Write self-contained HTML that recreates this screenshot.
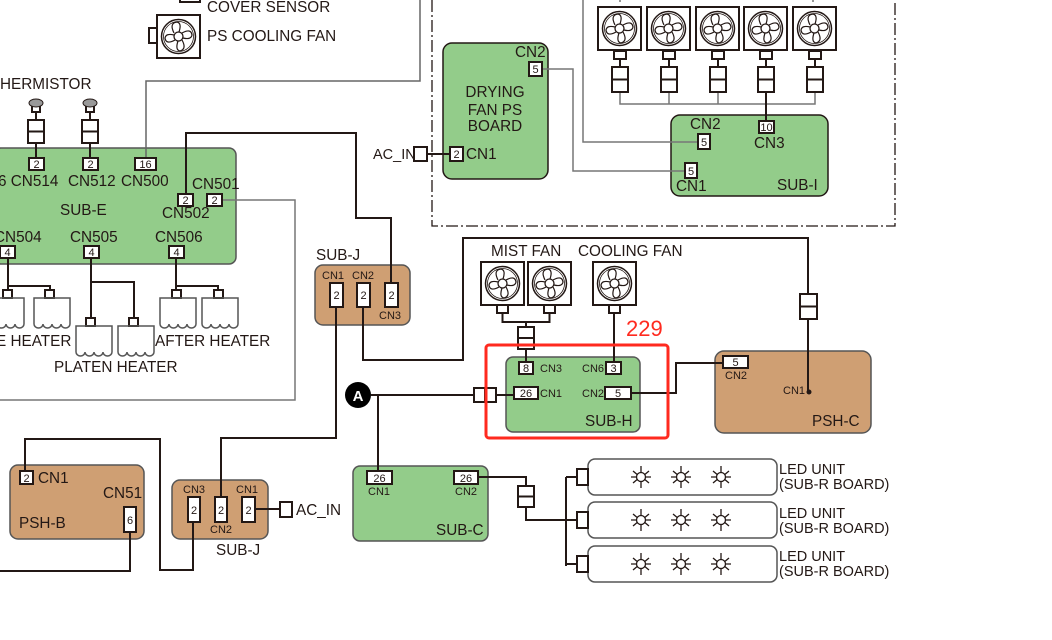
<!DOCTYPE html>
<html><head><meta charset="utf-8"><style>
html,body{margin:0;padding:0;background:#fff;}
svg{display:block;}
text{font-family:"Liberation Sans",sans-serif;fill:#231815;}
.l{font-size:15.3px;}
.s{font-size:11px;}
.n{font-size:11px;}
</style></head><body>
<svg width="1052" height="640" viewBox="0 0 1052 640" xmlns="http://www.w3.org/2000/svg">
<defs>
<g id="fan">
<rect x="0" y="0" width="43" height="43" fill="#fff" stroke="#231815" stroke-width="2"/>
<circle cx="21.5" cy="21.5" r="17" fill="none" stroke="#231815" stroke-width="1.5"/>
<circle cx="21.5" cy="21.5" r="15" fill="none" stroke="#231815" stroke-width="0.8"/>
<circle cx="21.5" cy="21.5" r="4.5" fill="none" stroke="#231815" stroke-width="1.3"/>
<path d="M17 18 Q12 8 20 7 Q25 8 22 17 M25 18 Q34 13 35 20 Q34 25 26 23 M25 25 Q30 34 23 36 Q18 35 21 26 M18 25 Q9 30 8 23 Q9 18 17 20" fill="none" stroke="#231815" stroke-width="1.2"/>
</g>
<g id="coil">
<path d="M0 26 V0 H36 V26 M0 26 a4.5 4 0 0 0 9 0 a4.5 4 0 0 0 9 0 a4.5 4 0 0 0 9 0 a4.5 4 0 0 0 9 0" fill="none" stroke="#555" stroke-width="1.5"/>
</g>
<g id="star">
<circle cx="0" cy="0" r="4.5" fill="none" stroke="#231815" stroke-width="1.3"/>
<path d="M0 -11 V-4.5 M0 4.5 V11 M-10 0 H-4.5 M4.5 0 H10 M-8 -6 L-3.8 -2.5 M8 -6 L3.8 -2.5 M-8 6 L-3.8 2.5 M8 6 L3.8 2.5" stroke="#231815" stroke-width="1.3"/>
</g>
<g id="fconn">
<rect x="-6" y="0" width="12" height="8" fill="#fff" stroke="#231815" stroke-width="2"/>
<line x1="0" y1="8" x2="0" y2="16" stroke="#231815" stroke-width="2"/>
<rect x="-8" y="16" width="16" height="25" fill="#fff" stroke="#231815" stroke-width="2"/>
<line x1="-8" y1="28.5" x2="8" y2="28.5" stroke="#231815" stroke-width="2"/>
</g>
</defs>

<path d="M432 0 V226 H895 V0" fill="none" stroke="#231815" stroke-width="1.3" stroke-dasharray="12,3,2,3"/>

<rect x="-6" y="148" width="242" height="116" rx="7" fill="#93cc8a" stroke="#555" stroke-width="1.5"/>
<rect x="443" y="43" width="105" height="136" rx="9" fill="#93cc8a" stroke="#231815" stroke-width="1.5"/>
<rect x="671" y="115" width="157" height="81" rx="9" fill="#93cc8a" stroke="#231815" stroke-width="1.5"/>
<rect x="315" y="265" width="95" height="60" rx="8" fill="#cf9f73" stroke="#555" stroke-width="1.5"/>
<rect x="506" y="357" width="134" height="75" rx="7" fill="#93cc8a" stroke="#555" stroke-width="1.5"/>
<rect x="715" y="351" width="156" height="82" rx="9" fill="#cf9f73" stroke="#555" stroke-width="1.5"/>
<rect x="353" y="466" width="135" height="75" rx="7" fill="#93cc8a" stroke="#555" stroke-width="1.5"/>
<rect x="10" y="465" width="134" height="74" rx="8" fill="#cf9f73" stroke="#555" stroke-width="1.5"/>
<rect x="172" y="480" width="96" height="59" rx="8" fill="#cf9f73" stroke="#555" stroke-width="1.5"/>

<g fill="none" stroke="#231815" stroke-width="2">
<path d="M420 0 V81 H146 V158" stroke="#666" stroke-width="1.5"/>
<path d="M186 195 V133 H356 V218 H391 V285"/>
<path d="M222 200 H295 V400 H0" stroke="#777" stroke-width="1.5"/>
<path d="M8 258 V292 M8 286 H50 V292"/>
<path d="M91 258 V320 M91 282 H134 V320"/>
<path d="M176 258 V292 M176 286 H218 V292"/>
<path d="M336 307 V438 H221 V497"/>
<path d="M363 307 V360 H463 V238 H808 V392"/>
<path d="M427 154 H450"/>
<path d="M542 69 H573 V171 H685" stroke="#777" stroke-width="1.5"/>
<path d="M583 0 V142 H698" stroke="#777" stroke-width="1.5"/>
<path d="M620 91 V104 H815 V91 M669 91 V104 M718 91 V104" stroke="#777" stroke-width="1.5"/>
<path d="M620 0 V2 M813 0 V2" stroke="#777" stroke-width="1.5"/>
<path d="M766 91 V121"/>
<path d="M502.5 313 V322 H549.5 V313 M526 322 V362"/>
<path d="M614 313 V362"/>
<path d="M371 395 H514 M378 395 V471"/>
<path d="M631 393 H676 V363 H723"/>
<path d="M478 477 H526 V520 H566 M566 477 V566 M566 477 H577 M566 520 H577 M566 564 H577"/>
<path d="M25 471 V439 H160 V570 H193 V522"/>
<path d="M130 532 V571 H0"/>
<path d="M255 509 H280"/>
<path d="M36 110 V157 M90 110 V157"/>
</g>

<g stroke="#231815" stroke-width="2" fill="#fff">
<rect x="28" y="120" width="16" height="23"/><line x1="28" y1="131.5" x2="44" y2="131.5"/>
<rect x="82" y="120" width="16" height="23"/><line x1="82" y1="131.5" x2="98" y2="131.5"/>
<rect x="32" y="106" width="8" height="6"/><rect x="86" y="106" width="8" height="6"/>
</g>
<ellipse cx="36" cy="103" rx="7" ry="4" fill="#999" stroke="#231815"/>
<ellipse cx="90" cy="103" rx="7" ry="4" fill="#999" stroke="#231815"/>

<g fill="#fff" stroke="#231815" stroke-width="2">
<rect x="3" y="290" width="9" height="8"/><rect x="45" y="290" width="9" height="8"/>
<rect x="86" y="318" width="9" height="8"/><rect x="129" y="318" width="9" height="8"/>
<rect x="172" y="290" width="9" height="8"/><rect x="214" y="290" width="9" height="8"/>
</g>
<use href="#coil" x="-12" y="298"/><use href="#coil" x="34" y="298"/>
<use href="#coil" x="76" y="326"/><use href="#coil" x="118" y="326"/>
<use href="#coil" x="160" y="298"/><use href="#coil" x="202" y="298"/>

<rect x="149" y="28" width="9" height="15" fill="#fff" stroke="#231815" stroke-width="2"/>
<use href="#fan" x="157" y="15"/>
<rect x="180" y="-4" width="20" height="6" fill="#fff" stroke="#231815" stroke-width="2"/>
<use href="#fan" x="598" y="7"/><use href="#fan" x="647" y="7"/><use href="#fan" x="696" y="7"/><use href="#fan" x="744" y="7"/><use href="#fan" x="793" y="7"/>
<use href="#fconn" x="620" y="51"/><use href="#fconn" x="669" y="51"/><use href="#fconn" x="718" y="51"/><use href="#fconn" x="766" y="51"/><use href="#fconn" x="815" y="51"/>
<use href="#fan" x="481" y="262"/><use href="#fan" x="528" y="262"/><use href="#fan" x="593" y="262"/>
<g fill="#fff" stroke="#231815" stroke-width="2">
<rect x="497" y="305" width="11" height="8"/><rect x="544" y="305" width="11" height="8"/><rect x="609" y="305" width="11" height="8"/>
<rect x="518" y="327" width="16" height="22"/><line x1="518" y1="338" x2="534" y2="338"/>
<rect x="800" y="294" width="17" height="25"/><line x1="800" y1="306.5" x2="817" y2="306.5"/>
<rect x="474" y="388" width="22" height="14"/><line x1="485" y1="388" x2="485" y2="402"/>
<rect x="518" y="486" width="16" height="21"/><line x1="518" y1="496.5" x2="534" y2="496.5"/>
<rect x="414" y="147" width="13" height="14"/>
<rect x="280" y="502" width="12" height="15"/>
</g>

<g fill="#fff" stroke="#555" stroke-width="1.5">
<rect x="588" y="459" width="189" height="36" rx="7"/>
<rect x="588" y="502" width="189" height="36" rx="7"/>
<rect x="588" y="546" width="189" height="36" rx="7"/>
</g>
<g fill="#fff" stroke="#231815" stroke-width="2">
<rect x="577" y="469" width="11" height="16"/><rect x="577" y="512" width="11" height="16"/><rect x="577" y="556" width="11" height="16"/>
</g>
<use href="#star" x="641" y="477"/><use href="#star" x="681" y="477"/><use href="#star" x="721" y="477"/>
<use href="#star" x="641" y="520"/><use href="#star" x="681" y="520"/><use href="#star" x="721" y="520"/>
<use href="#star" x="641" y="564"/><use href="#star" x="681" y="564"/><use href="#star" x="721" y="564"/>

<g fill="#fff" stroke="#231815" stroke-width="2">
<rect x="29" y="158" width="15" height="12"/><rect x="83" y="158" width="15" height="12"/><rect x="135" y="158" width="21" height="12"/>
<rect x="178" y="194" width="15" height="12"/><rect x="207" y="194" width="15" height="12"/>
<rect x="0" y="246" width="15" height="12"/><rect x="84" y="246" width="15" height="12"/><rect x="169" y="246" width="15" height="12"/>
<rect x="529" y="62" width="13" height="14"/><rect x="450" y="147" width="13" height="14"/>
<rect x="698" y="134" width="12" height="15"/><rect x="759" y="121" width="15" height="12"/><rect x="685" y="163" width="12" height="15"/>
<rect x="330" y="283" width="13" height="24"/><rect x="357" y="283" width="13" height="24"/><rect x="385" y="283" width="13" height="24"/>
<rect x="519" y="362" width="14" height="12"/><rect x="606" y="362" width="15" height="12"/>
<rect x="514" y="387" width="24" height="12"/><rect x="605" y="387" width="26" height="12"/>
<rect x="723" y="356" width="25" height="12"/>
<rect x="367" y="471" width="25" height="13"/><rect x="454" y="471" width="24" height="13"/>
<rect x="20" y="471" width="13" height="13"/><rect x="124" y="507" width="12" height="25"/>
<rect x="188" y="497" width="12" height="25"/><rect x="215" y="497" width="12" height="25"/><rect x="242" y="497" width="13" height="25"/>
</g>
<g class="n" text-anchor="middle">
<text x="36.5" y="168">2</text><text x="90.5" y="168">2</text><text x="145.5" y="168">16</text>
<text x="185.5" y="204">2</text><text x="214.5" y="204">2</text>
<text x="7.5" y="256">4</text><text x="91.5" y="256">4</text><text x="176.5" y="256">4</text>
<text x="535.5" y="73">5</text><text x="456.5" y="158">2</text>
<text x="704" y="146">5</text><text x="766.5" y="131">10</text><text x="691" y="175">5</text>
<text x="336.5" y="299">2</text><text x="363.5" y="299">2</text><text x="391.5" y="299">2</text>
<text x="526" y="372">8</text><text x="613.5" y="372">3</text>
<text x="526" y="397">26</text><text x="618" y="397">5</text>
<text x="735.5" y="366">5</text>
<text x="379.5" y="482">26</text><text x="466" y="482">26</text>
<text x="26.5" y="482">2</text><text x="130" y="524">6</text>
<text x="194" y="514">2</text><text x="221" y="514">2</text><text x="248.5" y="514">2</text>
</g>

<rect x="486" y="345" width="182" height="93" rx="3" fill="none" stroke="#ff2a1f" stroke-width="3"/>
<text x="626" y="336" style="font-size:22px;fill:#ff2a1f">229</text>

<circle cx="358" cy="395" r="13" fill="#000"/>
<text x="358" y="401" text-anchor="middle" style="font-size:15px;font-weight:bold;fill:#fff">A</text>
<circle cx="809" cy="392" r="2.5" fill="#231815"/>

<g class="l">
<text x="207" y="12">COVER SENSOR</text>
<text x="207" y="41">PS COOLING FAN</text>
<text x="0" y="89">HERMISTOR</text>
<text x="-2" y="186">6 CN514</text><text x="68" y="186">CN512</text><text x="121" y="186">CN500</text>
<text x="192" y="189">CN501</text><text x="162" y="218">CN502</text>
<text x="60" y="215">SUB-E</text>
<text x="-6" y="242">CN504</text><text x="70" y="242">CN505</text><text x="155" y="242">CN506</text>
<text x="-4" y="346">E HEATER</text><text x="155" y="346">AFTER HEATER</text><text x="54" y="372">PLATEN HEATER</text>
<text x="515" y="57">CN2</text>
<text x="495" y="97" text-anchor="middle">DRYING</text><text x="495" y="115" text-anchor="middle">FAN PS</text><text x="495" y="131" text-anchor="middle">BOARD</text>
<text x="466" y="159">CN1</text>
<text x="373" y="159" style="font-size:14.5px">AC_IN</text>
<text x="690" y="129">CN2</text><text x="754" y="148">CN3</text><text x="676" y="191">CN1</text><text x="777" y="190">SUB-I</text>
<text x="316" y="260">SUB-J</text>
<text x="491" y="256">MIST FAN</text><text x="578" y="256">COOLING FAN</text>
<text x="585" y="426">SUB-H</text>
<text x="812" y="426">PSH-C</text>
<text x="436" y="535">SUB-C</text>
<text x="38" y="483">CN1</text><text x="103" y="498">CN51</text><text x="19" y="528">PSH-B</text>
<text x="216" y="555">SUB-J</text>
<text x="296" y="515">AC_IN</text>
<text x="779" y="474" style="font-size:14.5px">LED UNIT</text><text x="779" y="489" style="font-size:14.5px">(SUB-R BOARD)</text>
<text x="779" y="518" style="font-size:14.5px">LED UNIT</text><text x="779" y="533" style="font-size:14.5px">(SUB-R BOARD)</text>
<text x="779" y="561" style="font-size:14.5px">LED UNIT</text><text x="779" y="576" style="font-size:14.5px">(SUB-R BOARD)</text>
</g>
<g class="s">
<text x="322" y="279">CN1</text><text x="352" y="279">CN2</text><text x="379" y="319">CN3</text>
<text x="540" y="372">CN3</text><text x="582" y="372">CN6</text>
<text x="540" y="397">CN1</text><text x="582" y="397">CN2</text>
<text x="725" y="379">CN2</text><text x="783" y="394">CN1</text>
<text x="368" y="495">CN1</text><text x="455" y="495">CN2</text>
<text x="183" y="493">CN3</text><text x="236" y="493">CN1</text><text x="210" y="533">CN2</text>
</g>
</svg>
</body></html>
